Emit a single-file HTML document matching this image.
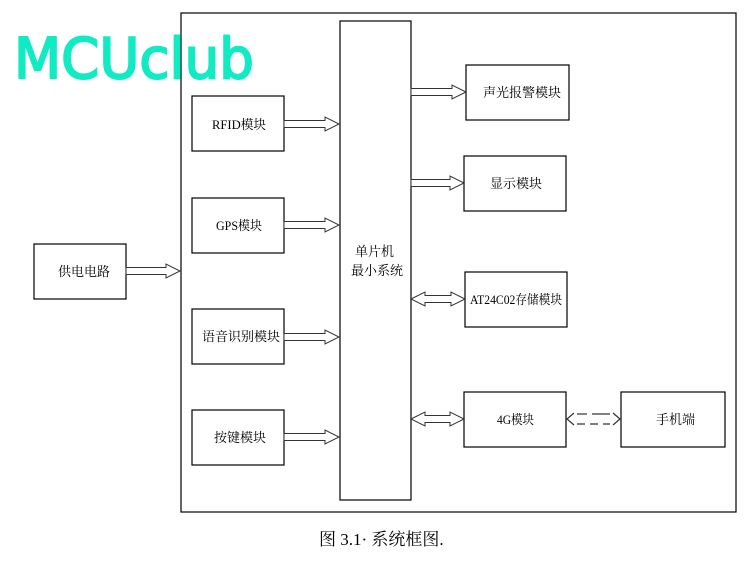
<!DOCTYPE html>
<html><head><meta charset="utf-8"><style>
body{margin:0;background:#fff;width:748px;height:560px;overflow:hidden}
text{font-family:"Liberation Serif","Noto Serif CJK SC",serif;font-size:13px;fill:#000}
</style></head><body>
<svg width="748" height="560" viewBox="0 0 748 560">
<g fill="#fff" stroke="#000" stroke-width="1.2">
<rect x="181" y="13" width="555" height="499"/>
<rect x="340" y="21" width="71" height="479"/>
<rect x="34" y="244" width="92" height="55"/>
<rect x="192" y="96" width="92" height="55"/>
<rect x="192" y="198" width="92" height="55"/>
<rect x="192" y="309" width="92" height="55"/>
<rect x="192" y="410" width="92" height="55"/>
<rect x="466" y="65" width="103" height="55"/>
<rect x="464" y="156" width="102" height="55"/>
<rect x="465" y="272" width="102" height="55"/>
<rect x="464" y="392" width="102" height="55"/>
<rect x="621" y="392" width="104" height="55"/>
</g>
<g fill="#fff" stroke="#333" stroke-width="1">
<polygon points="126,267.5 166,267.5 166,264 180,271 166,278 166,274.5 126,274.5"/>
<polygon points="284,120.5 325,120.5 325,117 339,124 325,131 325,127.5 284,127.5"/>
<polygon points="284,221.5 325,221.5 325,218 339,225 325,232 325,228.5 284,228.5"/>
<polygon points="284,333.5 325,333.5 325,330 339,337 325,344 325,340.5 284,340.5"/>
<polygon points="284,433.5 325,433.5 325,430 339,437 325,444 325,440.5 284,440.5"/>
<polygon points="411,88.5 452,88.5 452,85 466,92 452,99 452,95.5 411,95.5"/>
<polygon points="411,179.5 450,179.5 450,176 464,183 450,190 450,186.5 411,186.5"/>
<polygon points="411,299 425,292 425,295.5 451,295.5 451,292 465,299 451,306 451,302.5 425,302.5 425,306"/>
<polygon points="411,419 425,412 425,415.5 450,415.5 450,412 464,419 450,426 450,422.5 425,422.5 425,426"/>
</g>
<g stroke="#333" stroke-width="1.2" fill="none">
<polyline points="574,413 567,419 574,425"/>
<polyline points="613,413 620,419 613,425"/>
<line x1="577" y1="414" x2="587" y2="414" />
<line x1="592" y1="414" x2="610" y2="414" />
<line x1="577" y1="424" x2="610" y2="424" stroke-dasharray="8,5"/>
</g>
<text x="58" y="276">供电电路</text>
<text x="212" y="129" textLength="54" lengthAdjust="spacingAndGlyphs">RFID模块</text>
<text x="216" y="230" textLength="46" lengthAdjust="spacingAndGlyphs">GPS模块</text>
<text x="202" y="341">语音识别模块</text>
<text x="214" y="442">按键模块</text>
<text x="355" y="256">单片机</text>
<text x="351" y="275">最小系统</text>
<text x="483" y="97">声光报警模块</text>
<text x="490" y="188">显示模块</text>
<text x="470" y="304" textLength="92" lengthAdjust="spacingAndGlyphs">AT24C02存储模块</text>
<text x="497" y="424" textLength="37" lengthAdjust="spacingAndGlyphs">4G模块</text>
<text x="656" y="424">手机端</text>
<text x="319" y="545" style="font-size:17px">图 3.1· 系统框图.</text>
<text x="14" y="78" textLength="240" lengthAdjust="spacingAndGlyphs" style="font-family:'DejaVu Sans',sans-serif;font-size:56px;fill:#11ebc4;stroke:#11ebc4;stroke-width:2">MCUclub</text>
</svg>
</body></html>
